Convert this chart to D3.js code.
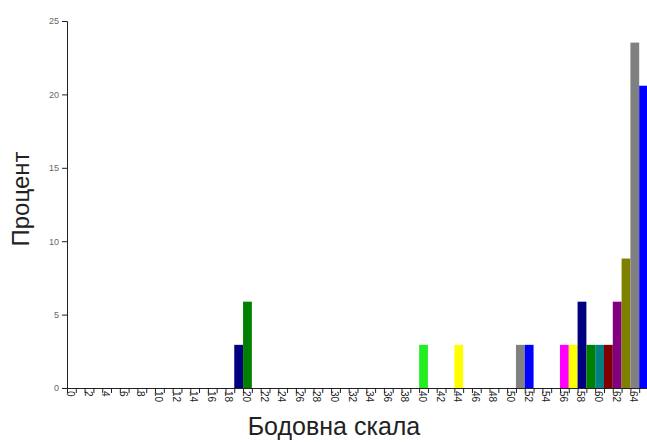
<!DOCTYPE html>
<html><head><meta charset="utf-8">
<script src="https://cdn.jsdelivr.net/npm/d3@7"></script>
<style>body{margin:0;background:#fff}svg{display:block}</style>
</head><body>
<script>
const categories = d3.range(0, 66);
const barCats   = [19, 20, 40, 44, 51, 52, 56, 57, 58, 59, 60, 61, 62, 63, 64, 65];
const barValues = [2.94, 5.88, 2.94, 2.94, 2.94, 2.94, 2.94, 2.94, 5.88, 2.94, 2.94, 2.94, 5.88, 8.82, 23.53, 20.59];
const barColors = ["#000080","#008000","#22ee22","#ffff00","#808080","#0000ff","#ff00ff","#ffff00","#000080","#008000","#008080","#800000","#800080","#808000","#808080","#0000ff"];
const yTicks = [0, 5, 10, 15, 20, 25];
const xLabels = d3.range(0, 66, 2);
const xTitle = "Бодовна скала";
const yTitle = "Процент";

const W = 647, H = 442;
const svg = d3.select("body").append("svg").attr("width", W).attr("height", H);
const x = d3.scaleBand().domain(categories).range([67, 648]).padding(0);
const y = d3.scaleLinear().domain([0, 25]).range([388, 21]);

svg.append("g").selectAll("rect").data(barCats).join("rect")
  .attr("x", d => x(d)).attr("width", x.bandwidth())
  .attr("y", (d, i) => y(barValues[i])).attr("height", (d, i) => y(0) - y(barValues[i]))
  .attr("fill", (d, i) => barColors[i]);

// y axis
const ya = svg.append("g").attr("transform", "translate(67,0)")
  .call(d3.axisLeft(y).tickValues(yTicks).tickSize(5).tickPadding(3));
ya.select(".domain").attr("stroke", "#222");
ya.selectAll(".tick line").attr("stroke", "#222");
ya.selectAll("text").attr("font-family", "Liberation Sans, Arial, sans-serif").attr("font-size", 9).attr("fill", "#666");

// x axis line
svg.append("line").attr("x1", 67).attr("x2", 648).attr("y1", 388.5).attr("y2", 388.5).attr("stroke", "#222");
// x ticks at band boundaries
svg.append("g").selectAll("line").data(categories).join("line")
  .attr("x1", d => x(d) + 0.5).attr("x2", d => x(d) + 0.5)
  .attr("y1", 388).attr("y2", 393).attr("stroke", "#222");
svg.append("g").selectAll("text").data(xLabels).join("text")
  .attr("transform", d => `translate(${x(d) + x.bandwidth()/2 - 1},391) rotate(90)`)
  .attr("dy", "0.35em")
  .attr("font-family", "Liberation Sans, Arial, sans-serif").attr("font-size", 10).attr("fill", "#222")
  .text(d => d);

svg.append("text").attr("x", 334).attr("y", 435).attr("text-anchor", "middle")
  .attr("font-family", "Liberation Sans, Arial, sans-serif").attr("font-size", 25).attr("fill", "#222").text(xTitle);
svg.append("text").attr("transform", "translate(29,199) rotate(-90)").attr("text-anchor", "middle")
  .attr("font-family", "Liberation Sans, Arial, sans-serif").attr("font-size", 24).attr("fill", "#222").text(yTitle);
</script>
</body></html>
